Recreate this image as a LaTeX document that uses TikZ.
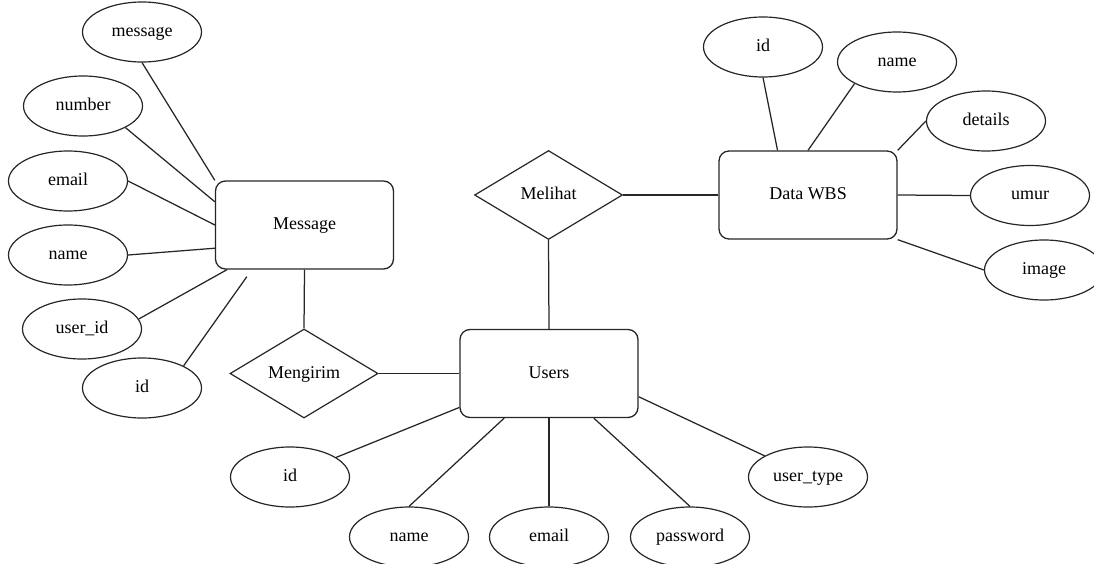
\documentclass[tikz,border=0pt]{standalone}
\usepackage{fontspec}
\setmainfont{Liberation Serif}
\usetikzlibrary{shapes.geometric,calc}
\begin{document}
\begin{tikzpicture}[x=1pt,y=-1pt,
  every node/.style={font=\fontsize{18}{21}\selectfont,text height=12pt,text depth=3pt},
  conn/.style={draw=black!85,line width=1.25pt},
  entity/.style={draw=black!85,line width=1.3pt,rectangle,rounded corners=10pt,minimum width=178pt,minimum height=88pt,inner sep=0pt},
  attr/.style={draw=black!85,line width=1.2pt,ellipse,minimum width=119pt,minimum height=60pt,inner sep=0pt},
  rel/.style={draw=black!85,line width=1.2pt,diamond,minimum width=148pt,minimum height=89pt,inner sep=0pt}]
\useasboundingbox (0,0) rectangle (1094,564);
% entities
\node[entity] (M) at (304.5,225) {Message};
\node[entity] (D) at (808,195) {Data WBS};
\node[entity] (U) at (549,373.5) {Users};
% relationships
\node[rel] (Mg) at (304,373.5) {Mengirim};
\node[rel] (Ml) at (548.5,195) {Melihat};
% Message attributes
\node[attr] (ma1) at (142,32) {message};
\node[attr] (ma2) at (83,106) {number};
\node[attr] (ma3) at (68,181) {email};
\node[attr] (ma4) at (68,255) {name};
\node[attr] (ma5) at (82,329) {user\_id};
\node[attr] (ma6) at (142,388) {id};
% Data WBS attributes
\node[attr] (da1) at (763,47) {id};
\node[attr] (da2) at (897,62) {name};
\node[attr] (da3) at (986,121) {details};
\node[attr] (da4) at (1030,195.5) {umur};
\node[attr] (da5) at (1044,270) {image};
% Users attributes
\node[attr] (ua1) at (290,477) {id};
\node[attr] (ua2) at (409,537) {name};
\node[attr] (ua3) at (549,537) {email};
\node[attr] (ua4) at (690,537) {password};
\node[attr] (ua5) at (808,477) {user\_type};
% Message connectors
\draw[conn] (ma1.south) -- (M.north west);
\draw[conn] (ma2.-27) -- ($(M.north west)!0.24!(M.south west)$);
\draw[conn] (ma3.east) -- (M.west);
\draw[conn] (ma4.east) -- ($(M.north west)!0.76!(M.south west)$);
\draw[conn] (ma5.10) -- ($(M.south west)!0.068!(M.south east)$);
\draw[conn] (ma6.28) -- ($(M.south west)+(32,7)$);
% relationships
\draw[conn] (M.south) -- (Mg.north);
\draw[conn] (Mg.east) -- (U.west);
\draw[conn] (Ml.south) -- (U.north);
\draw[conn] (Ml.east) -- (D.west);
% Data WBS connectors
\draw[conn] (da1.south) -- ($(D.north west)!0.33!(D.north east)$);
\draw[conn] (da2.-153) -- (D.north);
\draw[conn] (da3.west) -- (D.north east);
\draw[conn] (D.east) -- (da4.west);
\draw[conn] (da5.west) -- (D.south east);
% Users connectors
\draw[conn] (ua1.23) -- ($(U.north west)!0.88!(U.south west)$);
\draw[conn] (ua2.north) -- ($(U.south west)!0.25!(U.south east)$);
\draw[conn] (ua3.north) -- (U.south);
\draw[conn] (ua4.north) -- ($(U.south west)!0.75!(U.south east)$);
\draw[conn] (ua5.154) -- ($(U.north east)!0.76!(U.south east)$);
\end{tikzpicture}
\end{document}
